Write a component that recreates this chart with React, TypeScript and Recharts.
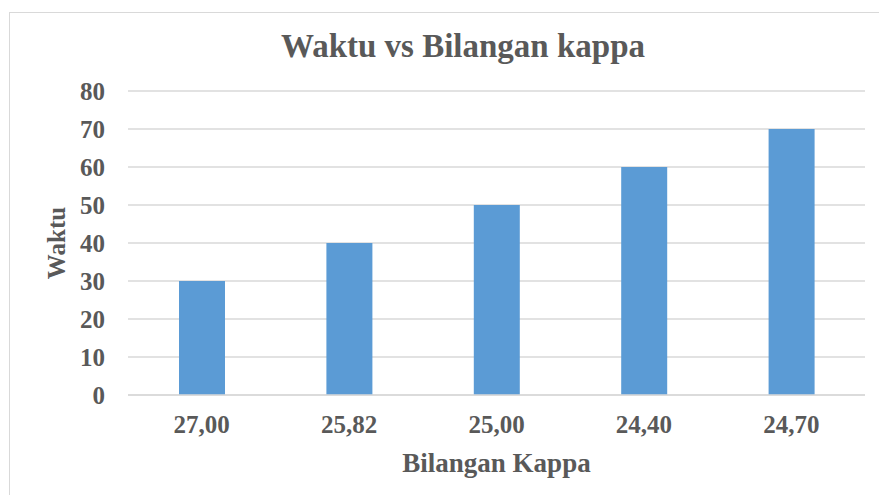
import React from 'react';
import { BarChart, Bar, XAxis, YAxis, CartesianGrid, Label } from 'recharts';

const categories = ['27,00', '25,82', '25,00', '24,40', '24,70'];
const waktu = [30, 40, 50, 60, 70];
const yTicks = [0, 10, 20, 30, 40, 50, 60, 70, 80];

const data = categories.map((kappa, i) => ({ kappa, waktu: waktu[i] }));

const FONT = '"Liberation Serif", "Times New Roman", serif';
const TEXT = '#595959';
const GRID = '#D9D9D9';

function YTitle(props: any) {
  const vb = props.viewBox || {};
  const x = (vb.x || 0) + 56;
  const y = (vb.y || 0) + (vb.height || 0) / 2;
  return (
    <text
      x={x}
      y={y}
      transform={`rotate(-90, ${x}, ${y})`}
      textAnchor="middle"
      dominantBaseline="central"
      fill={TEXT}
      fontFamily={FONT}
      fontWeight="bold"
      fontSize={25}
    >
      Waktu
    </text>
  );
}

export default function App() {
  return (
    <div
      style={{
        position: 'absolute',
        left: 0,
        top: 0,
        width: 879,
        height: 495,
        overflow: 'hidden',
        background: '#fff',
      }}
    >
      {/* chart frame, runs off the right and bottom like the original */}
      <div
        style={{
          position: 'absolute',
          left: 9,
          top: 12,
          width: 920,
          height: 520,
          border: `1.5px solid ${GRID}`,
        }}
      />
      <div
        style={{
          position: 'absolute',
          left: 463,
          top: 30,
          transform: 'translateX(-50%)',
          whiteSpace: 'nowrap',
          fontFamily: FONT,
          fontWeight: 'bold',
          fontSize: 33,
          lineHeight: '33px',
          color: TEXT,
        }}
      >
        Waktu vs Bilangan kappa
      </div>
      <div style={{ position: 'absolute', left: 0, top: 0 }}>
        <BarChart
          width={879}
          height={495}
          data={data}
          margin={{ top: 91, right: 14, bottom: 0, left: 0 }}
        >
          <CartesianGrid vertical={false} stroke={GRID} strokeWidth={1.5} />
          <XAxis
            dataKey="kappa"
            height={100}
            axisLine={{ stroke: GRID, strokeWidth: 1.5 }}
            tickLine={false}
            tickSize={0}
            tickMargin={20}
            tick={{ fill: TEXT, fontFamily: FONT, fontWeight: 'bold', fontSize: 25 }}
          >
            <Label
              value="Bilangan Kappa"
              position="insideBottom"
              offset={23}
              fill={TEXT}
              fontFamily={FONT}
              fontWeight="bold"
              fontSize={27}
            />
          </XAxis>
          <YAxis
            width={128}
            domain={[0, 80]}
            ticks={yTicks}
            axisLine={false}
            tickLine={false}
            tickSize={0}
            tickMargin={23}
            tick={{ fill: TEXT, fontFamily: FONT, fontWeight: 'bold', fontSize: 25 }}
          >
            <Label content={YTitle} />
          </YAxis>
          <Bar dataKey="waktu" fill="#5B9BD5" barSize={46} isAnimationActive={false} />
        </BarChart>
      </div>
    </div>
  );
}
